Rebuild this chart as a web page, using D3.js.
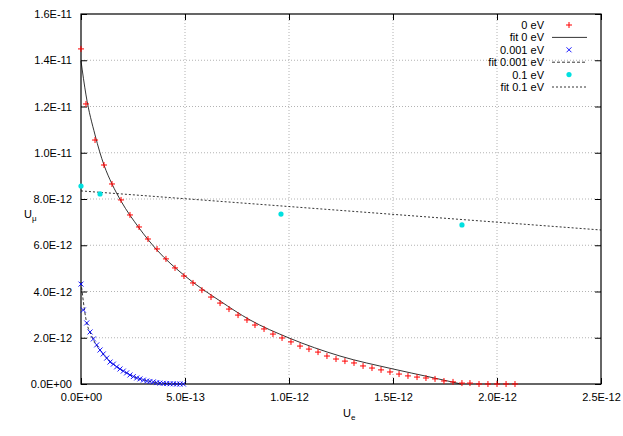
<!DOCTYPE html>
<html><head><meta charset="utf-8">
<script src="https://cdn.jsdelivr.net/npm/d3@7"></script>
<style>body{margin:0;background:#fff}text{font-family:"Liberation Sans",Arial,sans-serif;font-size:11px}</style>
</head><body><svg id="c" width="623" height="436"></svg>
<script>
// x values in units of 1E-13, y values in units of 1E-12
const red0X = [0,0.24,0.675,1.105,1.49,1.925,2.355,2.79,3.22,3.655,4.085,4.52,4.95,5.385,5.815,6.25,6.685,7.115,7.55,7.98,8.365,8.8,9.23,9.665,10.095,10.53,10.96,11.395,11.825,12.26,12.69,13.125,13.56,13.99,14.425,14.855,15.29,15.72,16.155,16.585,17.02,17.45,17.885,18.315,18.7,19.135,19.565,20.0,20.435,20.865];
const red0Y = [14.49,12.11,10.55,9.47,8.65,7.96,7.31,6.79,6.27,5.84,5.41,5.02,4.67,4.37,4.06,3.76,3.5,3.24,2.98,2.77,2.55,2.38,2.16,1.99,1.82,1.64,1.51,1.38,1.21,1.08,0.99,0.91,0.78,0.69,0.61,0.52,0.43,0.35,0.3,0.26,0.22,0.13,0.09,0.04,0.04,0,0,0,0,0];
const fit0X = [0,0.24,0.675,1.105,1.49,1.925,2.79,3.655,5,6.685,8.125,10,12.45,15,16.78,18.075,18.27];
const fit0Y = [13.97,12.5,10.77,9.47,8.65,7.91,6.75,5.79,4.67,3.59,2.77,1.99,1.21,0.65,0.3,0.04,0];
const blueX = [0,0.11,0.275,0.435,0.595,0.755,0.915,1.07,1.235,1.395,1.555,1.715,1.875,2.035,2.195,2.355,2.515,2.68,2.835,3.0,3.16,3.315,3.475,3.64,3.8,3.955,4.12,4.28,4.44,4.6,4.76,4.92];
const blueY = [4.32,3.2,2.64,2.25,1.95,1.69,1.47,1.3,1.12,0.95,0.86,0.74,0.65,0.56,0.48,0.39,0.32,0.26,0.22,0.17,0.13,0.11,0.09,0.06,0.04,0.03,0.02,0.01,0.01,0,0,0];
const fitBlueX = [0,0.25,0.5,1,1.5,2,2.5,3,3.5,4,4.92];
const fitBlueY = [4.4,2.75,2.1,1.37,0.9,0.58,0.33,0.18,0.08,0.03,0];
const cyanX = [0,0.915,9.615,18.315];
const cyanY = [8.56,8.22,7.35,6.88];
const fitCyanX = [0,25];
const fitCyanY = [8.35,6.66];
const xTicks = [0,5,10,15,20,25];
const xTickLabels = ["0.0E+00","5.0E-13","1.0E-12","1.5E-12","2.0E-12","2.5E-12"];
const yTicks = [0,2,4,6,8,10,12,14,16];
const yTickLabels = ["0.0E+00","2.0E-12","4.0E-12","6.0E-12","8.0E-12","1.0E-11","1.2E-11","1.4E-11","1.6E-11"];
const legendLabels = ["0 eV","fit 0 eV","0.001 eV","fit 0.001 eV","0.1 eV","fit 0.1 eV"];

const svg = d3.select("#c");
const L = 81, R = 601, T = 14, B = 384;
const x = d3.scaleLinear().domain([0,25]).range([L,R]);
const y = d3.scaleLinear().domain([0,16]).range([B,T]);
const zip = (a,b) => a.map((v,i) => [v,b[i]]);

// grid
const grid = svg.append("g").attr("stroke","#a0a0a0").attr("stroke-dasharray","1,2").attr("stroke-width",0.8);
xTicks.slice(1,-1).forEach(t => grid.append("line").attr("x1",x(t)).attr("x2",x(t)).attr("y1",T).attr("y2",B));
yTicks.slice(1,-1).forEach(t => grid.append("line").attr("x1",L).attr("x2",R).attr("y1",y(t)).attr("y2",y(t)));

// axes (ticks inward, mirrored)
const ax = svg.append("g");
ax.append("g").attr("transform",`translate(0,${B})`).call(d3.axisBottom(x).tickValues(xTicks).tickFormat((d,i)=>xTickLabels[i]).tickSizeInner(-6).tickSizeOuter(0).tickPadding(9));
ax.append("g").attr("transform",`translate(0,${T})`).call(d3.axisTop(x).tickValues(xTicks).tickFormat("").tickSizeInner(-6).tickSizeOuter(0));
ax.append("g").attr("transform",`translate(${L},0)`).call(d3.axisLeft(y).tickValues(yTicks).tickFormat((d,i)=>yTickLabels[i]).tickSizeInner(-6).tickSizeOuter(0).tickPadding(9));
ax.append("g").attr("transform",`translate(${R},0)`).call(d3.axisRight(y).tickValues(yTicks).tickFormat("").tickSizeInner(-6).tickSizeOuter(0));
ax.selectAll(".domain").remove();
ax.selectAll("line").attr("stroke","#000");
ax.selectAll("text").style("font-size","11px").style("font-family","'Liberation Sans',Arial,sans-serif");
svg.append("rect").attr("x",L).attr("y",T).attr("width",R-L).attr("height",B-T).attr("fill","none").attr("stroke","#000").attr("stroke-width",1.2);

// axis labels
const xl = svg.append("text").attr("x",343).attr("y",417).attr("font-size",11);
xl.append("tspan").text("U");
xl.append("tspan").attr("font-size",8).attr("dy",3).text("e");
const yl = svg.append("text").attr("x",24).attr("y",218).attr("font-size",11);
yl.append("tspan").text("U");
yl.append("tspan").attr("font-size",8).attr("dy",3).text("μ");

const plot = svg.append("g");
const line = d3.line().x(d=>x(d[0])).y(d=>y(d[1]));
const smooth = d3.line().x(d=>x(d[0])).y(d=>y(d[1])).curve(d3.curveMonotoneX);
plot.append("path").attr("d",smooth(zip(fit0X,fit0Y))).attr("fill","none").attr("stroke","#000").attr("stroke-width",0.8);
plot.append("path").attr("d",smooth(zip(fitBlueX,fitBlueY))).attr("fill","none").attr("stroke","#000").attr("stroke-width",0.8).attr("stroke-dasharray","3,2");
plot.append("path").attr("d",line(zip(fitCyanX,fitCyanY))).attr("fill","none").attr("stroke","#000").attr("stroke-width",0.8).attr("stroke-dasharray","2,2");

const plus = (g,cx,cy) => g.append("path").attr("d",`M${cx-3},${cy}H${cx+3}M${cx},${cy-3}V${cy+3}`).attr("stroke","#ff0000").attr("stroke-width",1);
const cross = (g,cx,cy) => g.append("path").attr("d",`M${cx-2.5},${cy-2.5}L${cx+2.5},${cy+2.5}M${cx-2.5},${cy+2.5}L${cx+2.5},${cy-2.5}`).attr("stroke","#0000ff").attr("stroke-width",0.9);
const dot = (g,cx,cy) => g.append("circle").attr("cx",cx).attr("cy",cy).attr("r",2.6).attr("fill","#00e0e0");
zip(red0X,red0Y).forEach(d => plus(plot,x(d[0]),y(d[1])));
zip(blueX,blueY).forEach(d => cross(plot,x(d[0]),y(d[1])));
zip(cyanX,cyanY).forEach(d => dot(plot,x(d[0]),y(d[1])));

// legend
const lg = svg.append("g");
legendLabels.forEach((t,i) => {
  const ly = 25 + i*12.4;
  lg.append("text").attr("x",544).attr("y",ly+4).attr("text-anchor","end").text(t);
  if (i===0) plus(lg,569,ly);
  if (i===2) cross(lg,569,ly);
  if (i===4) dot(lg,569,ly);
  if (i%2===1) lg.append("line").attr("x1",552).attr("x2",587).attr("y1",ly).attr("y2",ly).attr("stroke","#000").attr("stroke-width",0.8)
    .attr("stroke-dasharray", i===1 ? null : (i===3 ? "3,2" : "2,2"));
});
</script></body></html>
